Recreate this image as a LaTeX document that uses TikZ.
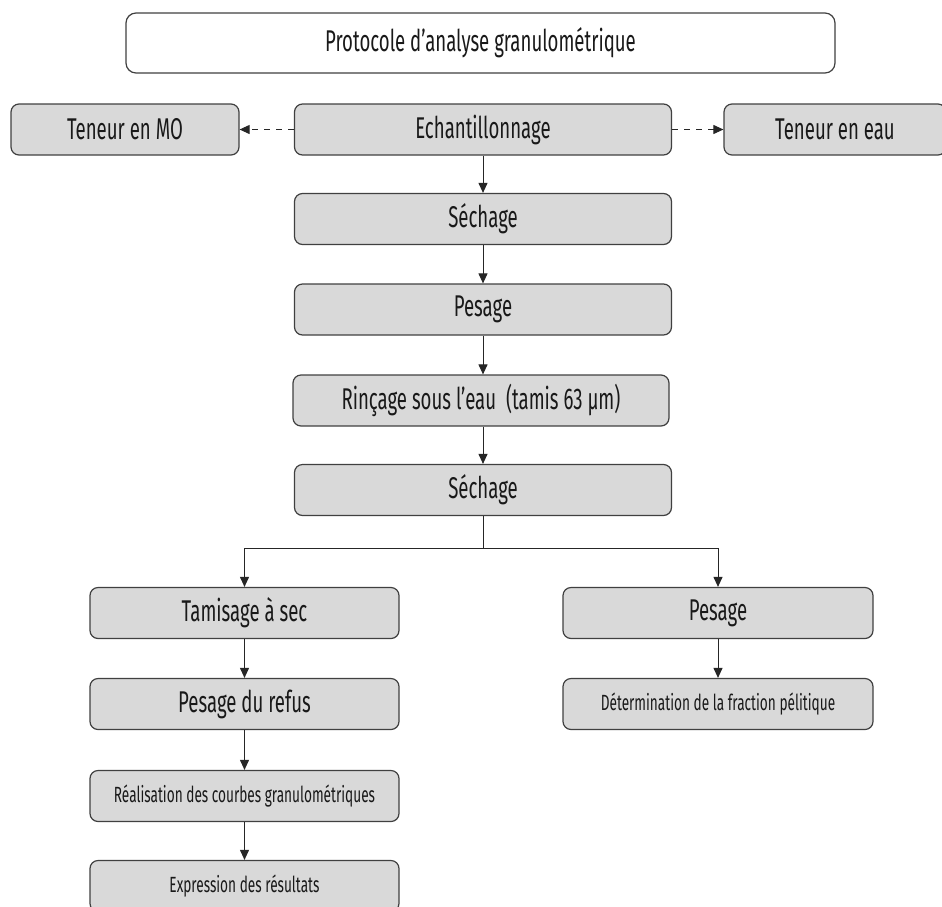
\documentclass[tikz,border=0pt]{standalone}
\usepackage{fontspec}
\setmainfont{Fira Sans}[FakeStretch=0.62]
\usetikzlibrary{arrows.meta}

\begin{document}
\begin{tikzpicture}[x=0.5pt,y=-0.5pt,
	etape/.style={draw=black!75,fill=black!15,rounded corners=4pt,line width=0.6pt,
		minimum height=25.5pt,inner sep=0pt,text=black!90,font=\fontsize{15}{17}\selectfont},
	petit/.style={font=\fontsize{11}{13}\selectfont},
	fleche/.style={draw=black!85,line width=0.5pt,-{Triangle[length=5pt,width=4.5pt]}}]
	
	% Cadre de la figure
	\useasboundingbox (0,0) rectangle (942,906);
	
	% Titre
	\node[etape,fill=white,rounded corners=5pt,minimum width=354.5pt,minimum height=30pt] (titre) at (480.5,43) {Protocole d’analyse granulométrique};
	
	% Ligne du haut
	\node[etape,minimum width=188.5pt] (echant) at (483,129.5) {Echantillonnage};
	\node[etape,minimum width=114pt] (teneurmo) at (125,129.5) {Teneur en MO};
	\node[etape,minimum width=111pt] (teneureau) at (835,129.5) {Teneur en eau};
	
	% Colonne centrale
	\node[etape,minimum width=188.5pt] (sechage) at (483,219) {Séchage};
	\node[etape,minimum width=188.5pt] (pesage) at (483,309.5) {Pesage};
	\node[etape,minimum width=188pt] (rincage) at (481,400.5) {Rinçage sous l’eau\, (tamis 63 µm)};
	\node[etape,minimum width=188.5pt] (sechagedeux) at (483,490) {Séchage};
	
	% Colonne de gauche
	\node[etape,minimum width=154.5pt] (tamisage) at (244.5,613) {Tamisage à sec};
	\node[etape,minimum width=154.5pt] (refus) at (244.5,704) {Pesage du refus};
	\node[etape,petit,minimum width=154.5pt] (courbes) at (244.5,796) {Réalisation des courbes granulométriques};
	\node[etape,petit,minimum width=154.5pt] (resultats) at (244.5,886) {Expression des résultats};
	
	% Colonne de droite
	\node[etape,minimum width=155pt] (pesagedeux) at (718,613) {Pesage};
	\node[etape,petit,minimum width=155pt] (pelitique) at (718,704) {Détermination de la fraction pélitique};
	
	% Fleches
	\draw[fleche,dashed] (echant) -- (teneurmo);
	\draw[fleche,dashed] (echant) -- (teneureau);
	\draw[fleche] (echant) -- (sechage);
	\draw[fleche] (sechage) -- (pesage);
	\draw[fleche] (pesage) -- (rincage.north -| pesage);
	\draw[fleche] (rincage.south -| pesage) -- (sechagedeux);
	\draw[draw=black!85,line width=0.5pt] (sechagedeux.south) -- ++(0,32) coordinate (fourche);
	\draw[fleche] (fourche) -| (tamisage.north);
	\draw[fleche] (fourche) -| (pesagedeux.north);
	\draw[fleche] (tamisage) -- (refus);
	\draw[fleche] (refus) -- (courbes);
	\draw[fleche] (courbes) -- (resultats);
	\draw[fleche] (pesagedeux) -- (pelitique);
\end{tikzpicture}
\end{document}
